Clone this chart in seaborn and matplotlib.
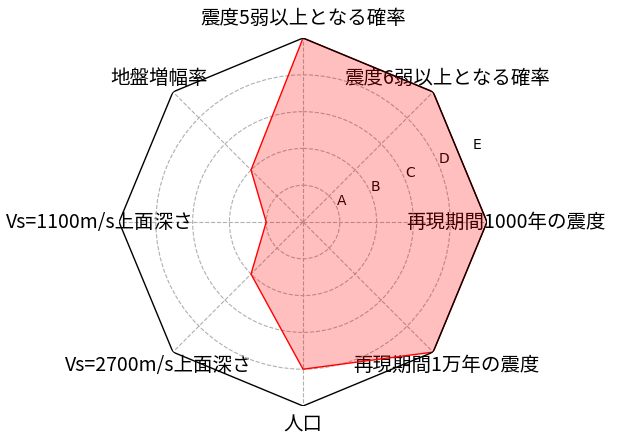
import numpy as np
import matplotlib
matplotlib.use("Agg")
import matplotlib.pyplot as plt
import seaborn as sns
import pandas as pd

categories = ["震度5弱以上となる確率", "震度6弱以上となる確率", "再現期間1000年の震度",
              "再現期間1万年の震度", "人口", "Vs=2700m/s上面深さ",
              "Vs=1100m/s上面深さ", "地盤増幅率"]
values = [5, 5, 5, 5, 4, 2, 1, 2]
rank_ticks = [1, 2, 3, 4, 5]
rank_labels = ["A", "B", "C", "D", "E"]

sns.set_style("white")
plt.rcParams["font.family"] = ["DejaVu Sans"]
plt.rcParams["text.color"] = "black"
plt.rcParams["xtick.color"] = "black"
plt.rcParams["ytick.color"] = "black"
plt.rcParams["xtick.labelcolor"] = "black"
plt.rcParams["ytick.labelcolor"] = "black"

n = len(categories)
angles = np.linspace(0, 2 * np.pi, n, endpoint=False)
df = pd.DataFrame({"angle": np.append(angles, angles[0]),
                   "value": values + values[:1]})

fig = plt.figure(figsize=(6.18, 4.46), dpi=100)
ax = fig.add_axes([0.1926, 0.0897, 0.5955, 0.825], projection="polar")
ax.set_theta_zero_location("N")
ax.set_theta_direction(-1)
ax.set_facecolor("white")

sns.lineplot(data=df, x="angle", y="value", sort=False, color="red",
             linewidth=1, ax=ax, estimator=None)
ax.fill(df["angle"], df["value"], color="red", alpha=0.25, linewidth=0)

# polygon frame
ax.plot(np.append(angles, angles[0]), [5] * (n + 1), color="black", linewidth=1)
ax.spines["polar"].set_visible(False)

ax.set_ylim(0, 5)
ax.set_yticks(rank_ticks)
ax.set_yticklabels(rank_labels, fontsize=10, color="black")
ax.set_rlabel_position(67.5)
ax.set_xticks(angles)
ax.set_xticklabels(categories, fontsize=14, color="black",
                   family=["Noto Sans CJK JP", "DejaVu Sans"])
ax.set_xlabel("")
ax.set_ylabel("")
ax.grid(True, linestyle="--", color="#b0b0b0", linewidth=0.8)
ax.yaxis.get_gridlines()[-1].set_visible(False)

fig.savefig("out.png", dpi=100)
